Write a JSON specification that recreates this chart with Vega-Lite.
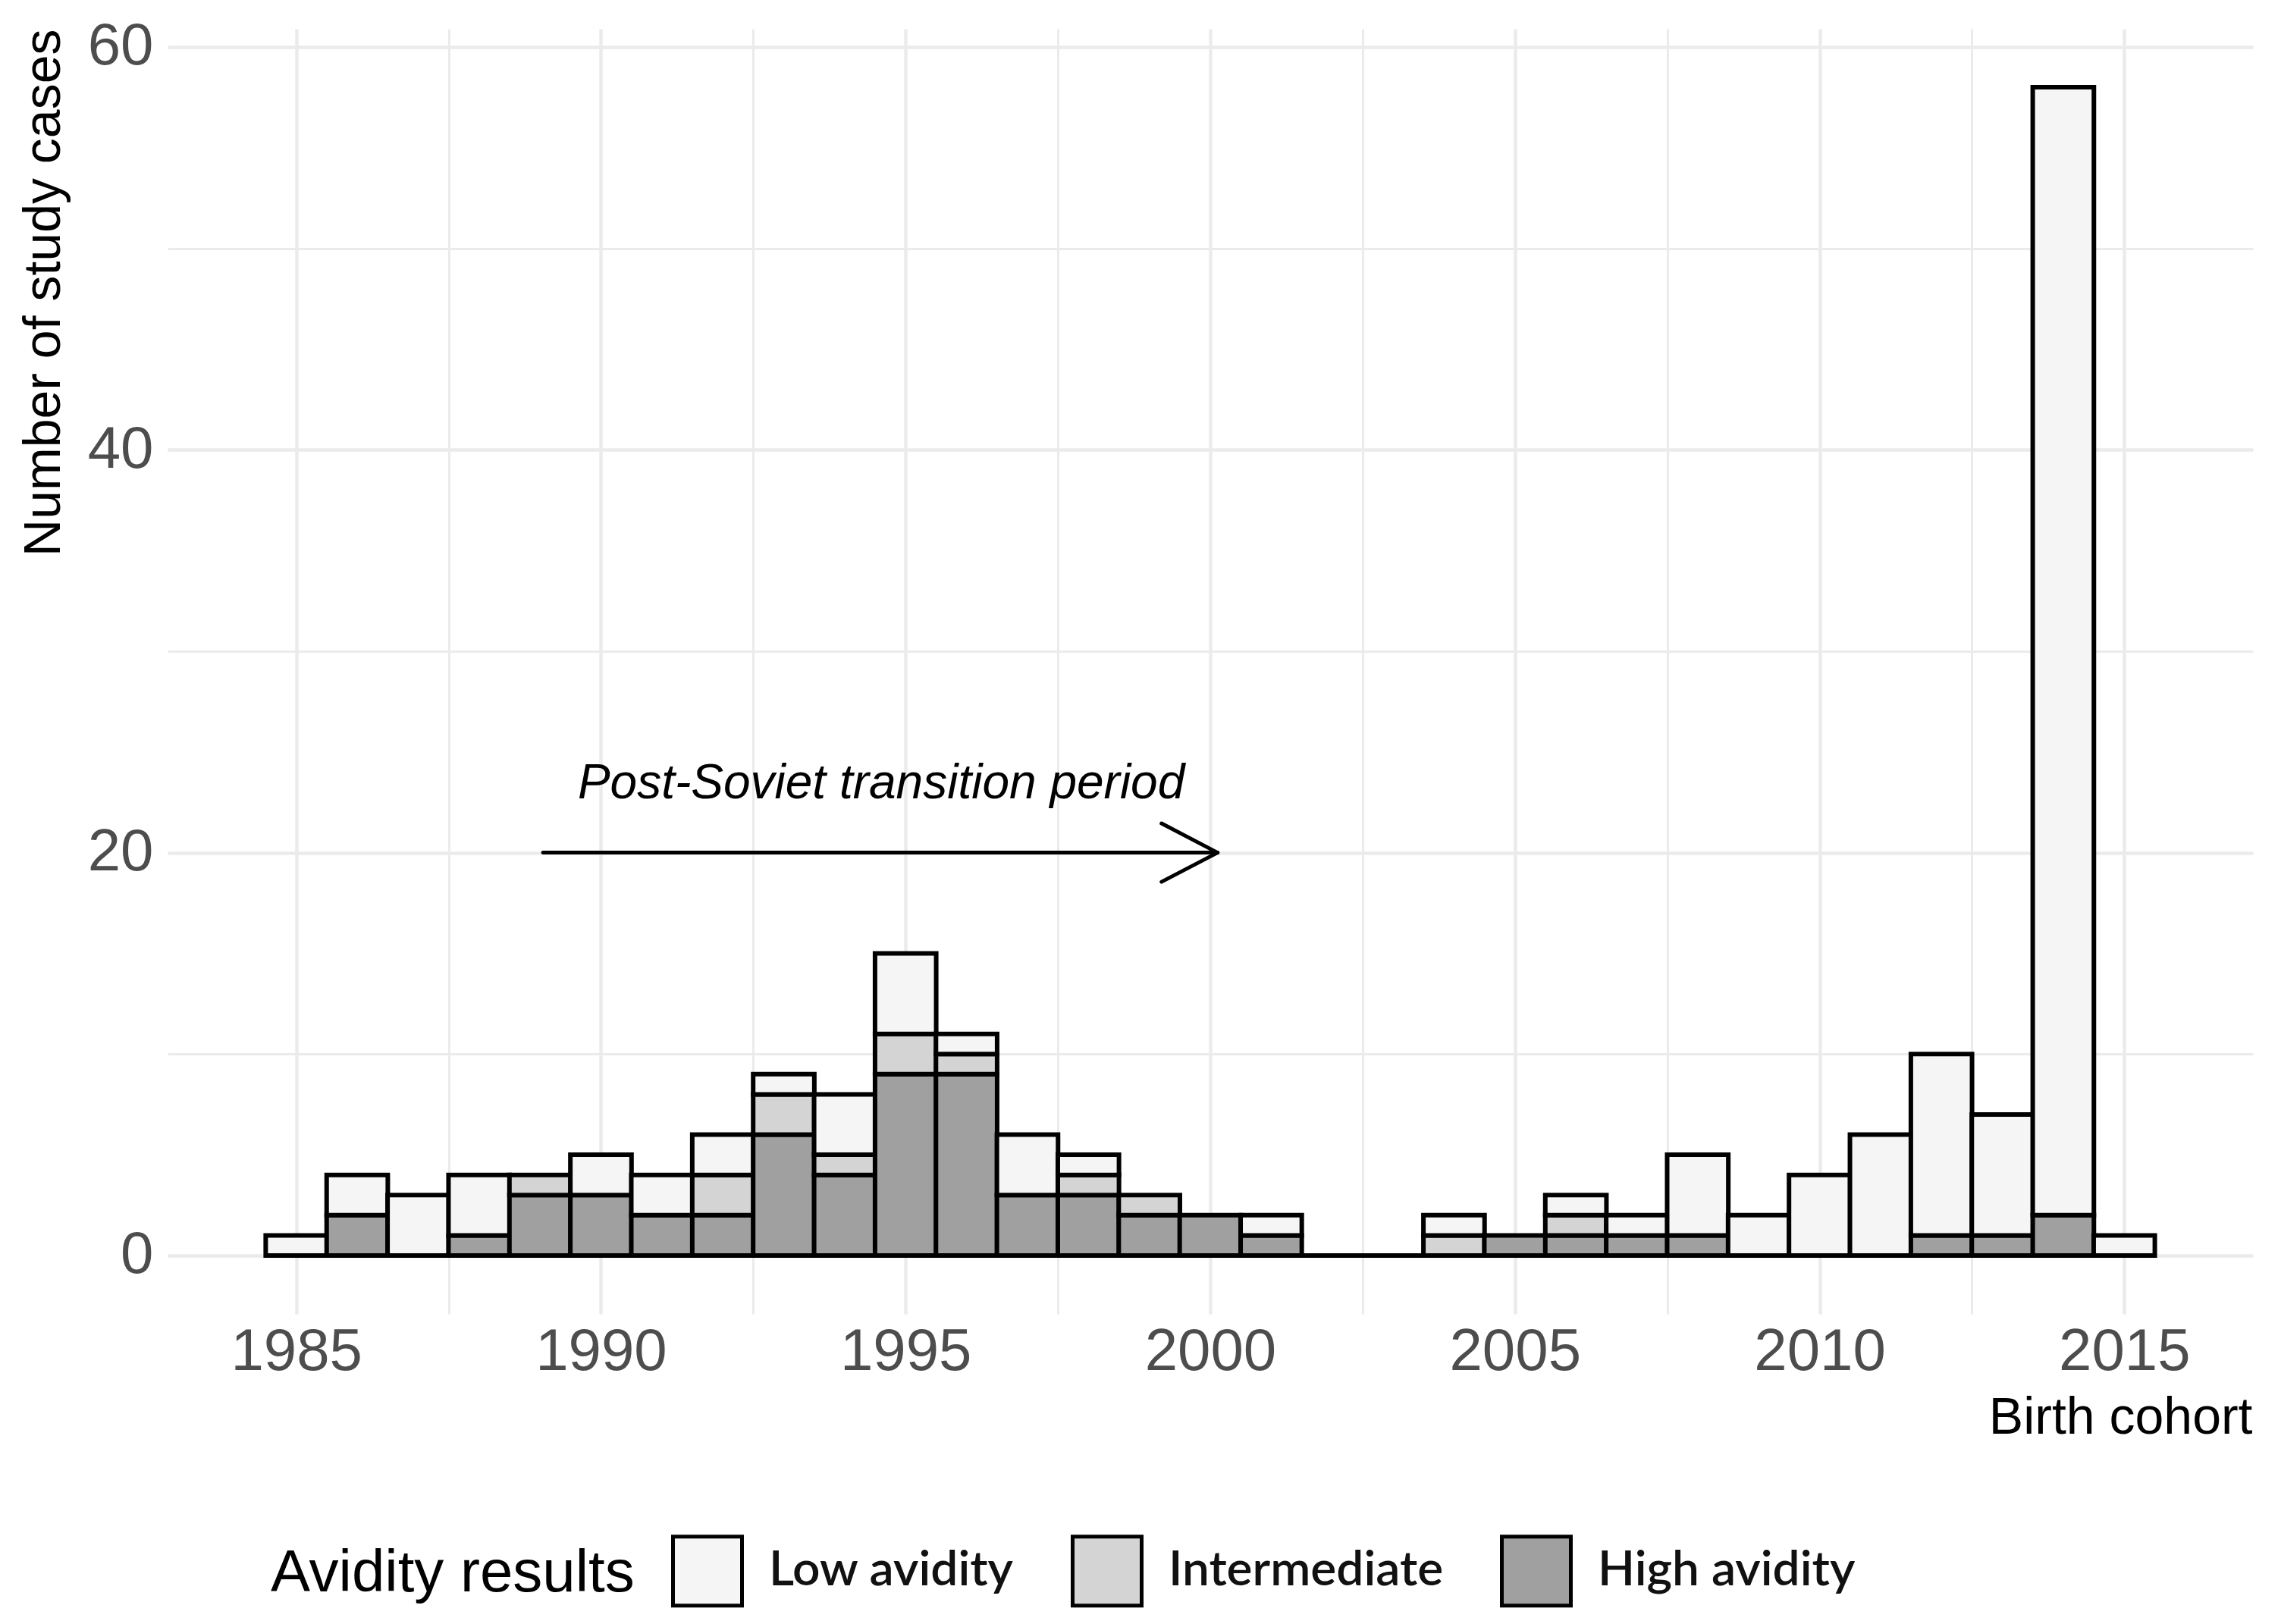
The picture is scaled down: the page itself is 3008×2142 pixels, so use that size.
{
  "$schema": "https://vega.github.io/schema/vega-lite/v6.json",
  "autosize": {"type": "none"},
  "padding": {"left": 221, "top": 38, "right": 37, "bottom": 409},
  "width": 2750,
  "height": 1695,
  "background": "white",
  "config": {"view": {"stroke": null}, "font": "Liberation Sans"},
  "datasets": {
    "cases": [
      {"year": 1985, "avidity": "Low avidity", "n": 1},
      {"year": 1986, "avidity": "High avidity", "n": 2},
      {"year": 1986, "avidity": "Low avidity", "n": 2},
      {"year": 1987, "avidity": "Low avidity", "n": 3},
      {"year": 1988, "avidity": "High avidity", "n": 1},
      {"year": 1988, "avidity": "Low avidity", "n": 3},
      {"year": 1989, "avidity": "High avidity", "n": 3},
      {"year": 1989, "avidity": "Intermediate", "n": 1},
      {"year": 1990, "avidity": "High avidity", "n": 3},
      {"year": 1990, "avidity": "Low avidity", "n": 2},
      {"year": 1991, "avidity": "High avidity", "n": 2},
      {"year": 1991, "avidity": "Low avidity", "n": 2},
      {"year": 1992, "avidity": "High avidity", "n": 2},
      {"year": 1992, "avidity": "Intermediate", "n": 2},
      {"year": 1992, "avidity": "Low avidity", "n": 2},
      {"year": 1993, "avidity": "High avidity", "n": 6},
      {"year": 1993, "avidity": "Intermediate", "n": 2},
      {"year": 1993, "avidity": "Low avidity", "n": 1},
      {"year": 1994, "avidity": "High avidity", "n": 4},
      {"year": 1994, "avidity": "Intermediate", "n": 1},
      {"year": 1994, "avidity": "Low avidity", "n": 3},
      {"year": 1995, "avidity": "High avidity", "n": 9},
      {"year": 1995, "avidity": "Intermediate", "n": 2},
      {"year": 1995, "avidity": "Low avidity", "n": 4},
      {"year": 1996, "avidity": "High avidity", "n": 9},
      {"year": 1996, "avidity": "Intermediate", "n": 1},
      {"year": 1996, "avidity": "Low avidity", "n": 1},
      {"year": 1997, "avidity": "High avidity", "n": 3},
      {"year": 1997, "avidity": "Low avidity", "n": 3},
      {"year": 1998, "avidity": "High avidity", "n": 3},
      {"year": 1998, "avidity": "Intermediate", "n": 1},
      {"year": 1998, "avidity": "Low avidity", "n": 1},
      {"year": 1999, "avidity": "High avidity", "n": 2},
      {"year": 1999, "avidity": "Intermediate", "n": 1},
      {"year": 2000, "avidity": "High avidity", "n": 2},
      {"year": 2001, "avidity": "High avidity", "n": 1},
      {"year": 2001, "avidity": "Low avidity", "n": 1},
      {"year": 2002, "avidity": "Low avidity", "n": 0},
      {"year": 2003, "avidity": "Low avidity", "n": 0},
      {"year": 2004, "avidity": "Intermediate", "n": 1},
      {"year": 2004, "avidity": "Low avidity", "n": 1},
      {"year": 2005, "avidity": "High avidity", "n": 1},
      {"year": 2006, "avidity": "High avidity", "n": 1},
      {"year": 2006, "avidity": "Intermediate", "n": 1},
      {"year": 2006, "avidity": "Low avidity", "n": 1},
      {"year": 2007, "avidity": "High avidity", "n": 1},
      {"year": 2007, "avidity": "Low avidity", "n": 1},
      {"year": 2008, "avidity": "High avidity", "n": 1},
      {"year": 2008, "avidity": "Low avidity", "n": 4},
      {"year": 2009, "avidity": "Low avidity", "n": 2},
      {"year": 2010, "avidity": "Low avidity", "n": 4},
      {"year": 2011, "avidity": "Low avidity", "n": 6},
      {"year": 2012, "avidity": "High avidity", "n": 1},
      {"year": 2012, "avidity": "Low avidity", "n": 9},
      {"year": 2013, "avidity": "High avidity", "n": 1},
      {"year": 2013, "avidity": "Low avidity", "n": 6},
      {"year": 2014, "avidity": "High avidity", "n": 2},
      {"year": 2014, "avidity": "Low avidity", "n": 56},
      {"year": 2015, "avidity": "Low avidity", "n": 1}
    ]
  },
  "layer": [
    {
      "data": {"name": "cases"},
      "mark": {"type": "point", "opacity": 0},
      "encoding": {
        "x": {
          "field": "year", "type": "quantitative",
          "scale": {"domain": [1982.95, 2017.05], "nice": false, "zero": false},
          "axis": {"orient": "top", "values": [1987.5, 1992.5, 1997.5, 2002.5, 2007.5, 2012.5], "grid": true, "gridColor": "#ebebeb", "gridWidth": 3, "labels": false, "ticks": false, "domain": false, "title": null}
        },
        "y": {
          "field": "n", "type": "quantitative",
          "scale": {"domain": [-2.9, 60.9], "nice": false, "zero": false},
          "axis": {"orient": "right", "values": [10, 30, 50], "grid": true, "gridColor": "#ebebeb", "gridWidth": 3, "labels": false, "ticks": false, "domain": false, "title": null}
        }
      }
    },
    {
      "data": {"name": "cases"},
      "mark": {"type": "bar", "width": 80.65, "stroke": "black", "strokeWidth": 6, "opacity": 1},
      "encoding": {
        "x": {
          "field": "year", "type": "quantitative",
          "axis": {
            "orient": "bottom",
            "values": [1985, 1990, 1995, 2000, 2005, 2010, 2015], "format": "d",
            "grid": true, "gridColor": "#ebebeb", "gridWidth": 4.5,
            "ticks": false, "domain": false,
            "labelFontSize": 78, "labelColor": "#4d4d4d", "labelPadding": 50, "labelBaseline": "middle",
            "title": "Birth cohort", "titleFontSize": 68, "titleFontWeight": "normal", "titleColor": "black",
            "titleAnchor": "end", "titleAlign": "right", "titleBaseline": "middle", "titleX": 2749, "titleY": 137
          }
        },
        "y": {
          "field": "n", "type": "quantitative", "stack": "zero",
          "axis": {
            "orient": "left",
            "values": [0, 20, 40, 60],
            "grid": true, "gridColor": "#ebebeb", "gridWidth": 4.5,
            "ticks": false, "domain": false,
            "labelFontSize": 78, "labelColor": "#4d4d4d", "labelPadding": 19, "labelBaseline": "middle",
            "title": "Number of study cases", "titleFontSize": 68, "titleFontWeight": "normal", "titleColor": "black",
            "titleAnchor": "end", "titleAngle": -90, "titleAlign": "right", "titleBaseline": "middle", "titleX": -163, "titleY": 0
          }
        },
        "color": {
          "field": "avidity", "type": "nominal",
          "scale": {"domain": ["Low avidity", "Intermediate", "High avidity"], "range": ["#f5f5f5", "#d4d4d4", "#a0a0a0"]},
          "legend": {
            "orient": "none", "legendX": 136, "legendY": 1986, "direction": "horizontal",
            "title": "Avidity results", "titleOrient": "left", "titlePadding": 48, "titleLimit": 0,
            "titleFont": "Liberation Sans", "titleFontSize": 78, "titleFontWeight": "normal", "titleColor": "black",
            "titleAnchor": "middle", "titleBaseline": "middle",
            "symbolType": "square", "symbolSize": 8281, "symbolStrokeColor": "black", "symbolStrokeWidth": 5, "symbolOpacity": 1,
            "labelFont": "Lato", "labelFontSize": 64, "labelFontWeight": 600, "labelColor": "#111111", "labelOffset": 33, "labelLimit": 0,
            "columnPadding": 66, "padding": 0
          }
        },
        "order": {"field": "avidity", "sort": "ascending"}
      }
    },
    {
      "data": {"values": [{"x": 1994.6, "y": 23.4, "label": "Post-Soviet transition period"}]},
      "mark": {"type": "text", "font": "Liberation Sans", "fontSize": 64, "fontStyle": "italic", "color": "black", "align": "center", "baseline": "middle"},
      "encoding": {
        "x": {"field": "x", "type": "quantitative", "axis": null},
        "y": {"field": "y", "type": "quantitative", "axis": null},
        "text": {"field": "label"}
      }
    },
    {
      "data": {"values": [
        {"x": 1989.05, "x2": 2000.12, "y": 20, "y2": 20},
        {"x": 1999.2, "x2": 2000.12, "y": 21.45, "y2": 20},
        {"x": 1999.2, "x2": 2000.12, "y": 18.55, "y2": 20}
      ]},
      "mark": {"type": "rule", "color": "black", "strokeWidth": 5, "strokeCap": "round"},
      "encoding": {
        "x": {"field": "x", "type": "quantitative", "axis": null},
        "x2": {"field": "x2"},
        "y": {"field": "y", "type": "quantitative", "axis": null},
        "y2": {"field": "y2"}
      }
    }
  ],
  "resolve": {"axis": {"x": "independent", "y": "independent"}}
}
